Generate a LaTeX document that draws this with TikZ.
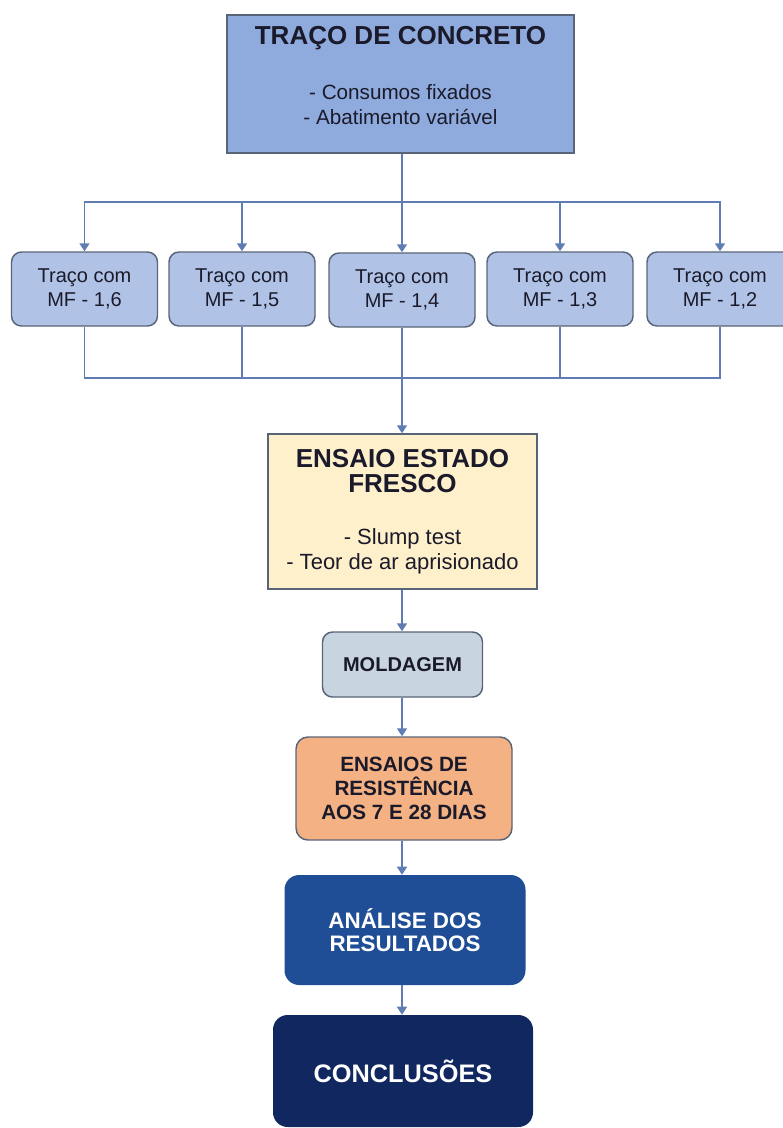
\documentclass[tikz,border=0pt]{standalone}
\usepackage{fontspec}
\setmainfont{Liberation Sans}
\usepackage{tikz}
\usetikzlibrary{arrows.meta, positioning}
\definecolor{topfill}{HTML}{8FAADC}
\definecolor{mffill}{HTML}{B0C3E6}
\definecolor{boxline}{HTML}{5A6478}
\definecolor{freshfill}{HTML}{FFF0CC}
\definecolor{moldfill}{HTML}{C8D5E0}
\definecolor{resfill}{HTML}{F4B183}
\definecolor{anafill}{HTML}{1F4E96}
\definecolor{concfill}{HTML}{10275F}
\definecolor{arrline}{HTML}{5F7DB2}
\definecolor{txtdark}{HTML}{1A1A2A}
\newcommand{\headfont}{\fontsize{19.5}{22.5}\selectfont\bfseries}

\begin{document}
\begin{tikzpicture}[x=0.75pt, y=-0.75pt,
  box/.style={draw=boxline, line width=1.1pt, align=center, inner sep=2pt, text=txtdark},
  mfbox/.style={box, fill=mffill, rounded corners=7.5pt, minimum width=109.5pt, minimum height=55.5pt, font=\fontsize{15}{18.5}\selectfont},
  darkbox/.style={draw=none, rounded corners=11pt, align=center, inner sep=2pt, text=white},
  line/.style={draw=arrline, line width=1.2pt},
  arr/.style={line, -{Triangle[width=7.5pt, length=6pt]}}
]
\useasboundingbox (0,0) rectangle (782,1128);
\node[box, fill=topfill, minimum width=260pt, minimum height=103.5pt, text depth=13pt, font=\fontsize{15.5}{18.75}\selectfont] (traco) at (400.5,84)
  {{\headfont TRAÇO DE CONCRETO}\\[22pt]
   - Consumos fixados\\
   - Abatimento variável};
\node[mfbox] (mf16) at (84.5,289) {Traço com\\MF - 1,6};
\node[mfbox] (mf15) at (242,289) {Traço com\\MF - 1,5};
\node[mfbox] (mf14) at (402,290) {Traço com\\MF - 1,4};
\node[mfbox] (mf13) at (560,289) {Traço com\\MF - 1,3};
\node[mfbox] (mf12) at (720,289) {Traço com\\MF - 1,2};
\coordinate (split) at (402,202);
\coordinate (merge) at (402,378);
\node[box, fill=freshfill, minimum width=201.75pt, minimum height=116.25pt, font=\fontsize{16.5}{18.75}\selectfont] (fresco) at (402.5,511.5)
  {{\headfont ENSAIO ESTADO}\\
   {\headfont FRESCO}\\[20pt]
   - Slump test\\
   - Teor de ar aprisionado};
\node[box, fill=moldfill, rounded corners=7.5pt, minimum width=120pt, minimum height=48.75pt, font=\fontsize{15}{18}\selectfont\bfseries] (molda) at (402.5,664.5) {MOLDAGEM};
\node[box, fill=resfill, rounded corners=9pt, minimum width=162pt, minimum height=77.25pt, font=\fontsize{15.5}{18}\selectfont\bfseries] (resist) at (404,788.5) {ENSAIOS DE\\RESISTÊNCIA\\AOS 7 E 28 DIAS};
\node[darkbox, fill=anafill, minimum width=180.75pt, minimum height=82.5pt, font=\fontsize{16.8}{17}\selectfont\bfseries] (analise) at (405,930) {ANÁLISE DOS\\RESULTADOS};
\node[darkbox, fill=concfill, minimum width=195pt, minimum height=84pt, font=\fontsize{19}{22}\selectfont\bfseries] (concl) at (403,1071) {CONCLUSÕES};
\draw[line] (traco.south -| split) -- (split);
\draw[arr] (split) -| (mf16.north);
\draw[arr] (split) -| (mf15.north);
\draw[arr] (split) -- (mf14.north);
\draw[arr] (split) -| (mf13.north);
\draw[arr] (split) -| (mf12.north);
\draw[line] (mf16.south) |- (merge);
\draw[line] (mf15.south) |- (merge);
\draw[line] (mf14.south) -- (merge);
\draw[line] (mf13.south) |- (merge);
\draw[line] (mf12.south) |- (merge);
\draw[arr] (merge) -- (fresco.north -| merge);
\draw[arr] (fresco.south -| merge) -- (molda.north -| merge);
\draw[arr] (molda.south -| merge) -- (resist.north -| merge);
\draw[arr] (resist.south -| merge) -- (analise.north -| merge);
\draw[arr] (analise.south -| merge) -- (concl.north -| merge);
\end{tikzpicture}
\end{document}
